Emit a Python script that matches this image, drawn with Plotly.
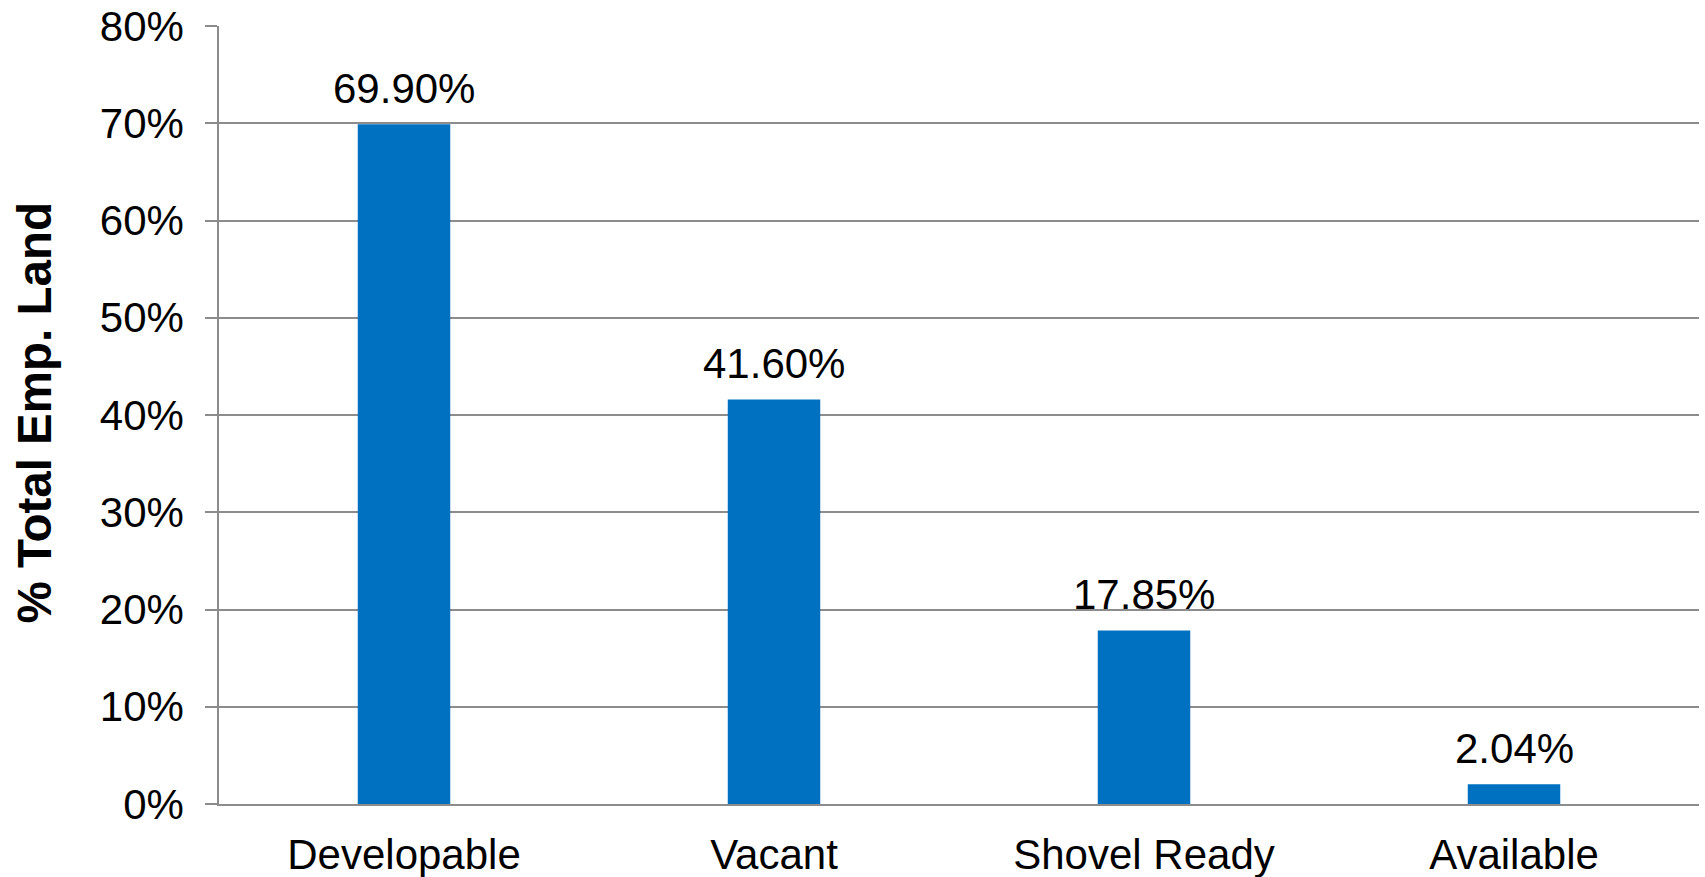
import plotly.graph_objects as go

categories = ["Developable", "Vacant", "Shovel Ready", "Available"]
values = [69.90, 41.60, 17.85, 2.04]
labels = ["69.90%", "41.60%", "17.85%", "2.04%"]
tick_vals = [0, 10, 20, 30, 40, 50, 60, 70, 80]
tick_text = ["0%", "10%", "20%", "30%", "40%", "50%", "60%", "70%", "80%"]
y_title = "% Total Emp. Land"

FONT = "Liberation Sans, Arial, sans-serif"
GRID = "#8c8c8c"

fig = go.Figure(go.Bar(x=categories, y=values, marker_color="#0070C0",
                       marker_line_width=0))

for c, v, t in zip(categories, values, labels):
    fig.add_annotation(x=c, y=v, text=t, showarrow=False, yanchor="bottom",
                       yshift=10, font=dict(family=FONT, size=42, color="#000"))

fig.add_annotation(xref="paper", yref="paper", x=-0.125, y=0.502, text="<b>" + y_title + "</b>",
                   textangle=-90, showarrow=False, xanchor="center", yanchor="middle",
                   font=dict(family=FONT, size=47.5, color="#000"))

fig.update_layout(
    width=1705, height=877, autosize=False,
    margin=dict(l=219, r=6, t=26, b=73, pad=0),
    paper_bgcolor="white", plot_bgcolor="white",
    bargap=0.75, showlegend=False,
    font=dict(family=FONT, size=42, color="#000"),
)
fig.update_xaxes(showline=True, linecolor=GRID, linewidth=1.5, ticks="",
                 tickfont=dict(size=42), ticklabelstandoff=13, automargin=False)
fig.update_yaxes(range=[0, 80], tickvals=tick_vals, ticktext=tick_text,
                 showgrid=True, gridcolor=GRID, gridwidth=1.5,
                 showline=True, linecolor=GRID, linewidth=1.5,
                 ticks="outside", ticklen=12, tickcolor=GRID, tickwidth=1.5,
                 zeroline=False, tickfont=dict(size=42), ticklabelstandoff=13,
                 automargin=False)

fig.write_html("out.html")
